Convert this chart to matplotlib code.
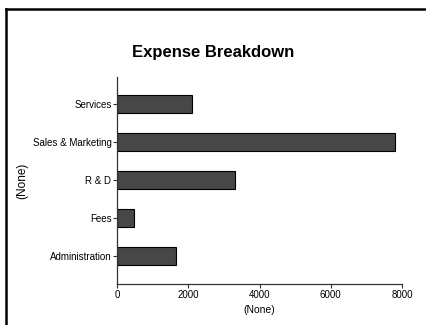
import matplotlib
matplotlib.use('Agg')
from matplotlib import pyplot as plt
from matplotlib.lines import Line2D

# data
categories = ['Administration', 'Fees', 'R & D', 'Sales & Marketing', 'Services']
values = [1650, 480, 3300, 7800, 2100]
xticks = [0, 2000, 4000, 6000, 8000]

plt.rcParams['font.family'] = ['Liberation Sans', 'DejaVu Sans']

fig = plt.figure(figsize=(4.27, 3.25), dpi=100)
ax = fig.add_axes([117/427, 1-284/325, 285/427, 207/325])

ax.barh(range(len(categories)), values, height=0.48, color='#474747',
        edgecolor='black', linewidth=0.8)

ax.set_xlim(0, 8000)
ax.set_ylim(-0.74, 4.71)
ax.set_xticks(xticks)
ax.set_xticklabels([str(t) for t in xticks])
ax.set_yticks(range(len(categories)))
ax.set_yticklabels(categories)
ax.tick_params(labelsize=7, length=3, width=0.8, pad=1, color='#333333')
for s in ['top', 'right']:
    ax.spines[s].set_visible(False)
for s in ['left', 'bottom']:
    ax.spines[s].set_linewidth(0.9)
    ax.spines[s].set_color('#333333')

ax.set_xlabel('(None)', fontsize=7.5, labelpad=4)
ax.set_ylabel('(None)', fontsize=8.5)
ax.yaxis.set_label_coords(-0.31, 0.5)

fig.text(213/427, 1-52/325, 'Expense Breakdown', ha='center', va='center',
         fontsize=12, fontweight='bold')

# outer frame (top and left edges visible)
fig.add_artist(Line2D([6.5/427, 6.5/427], [0, 1-8.5/325], transform=fig.transFigure,
                      color='black', linewidth=1.8))
fig.add_artist(Line2D([6.5/427, 1], [1-8.5/325, 1-8.5/325], transform=fig.transFigure,
                      color='black', linewidth=1.8))

fig.savefig('out.png', dpi=100)
